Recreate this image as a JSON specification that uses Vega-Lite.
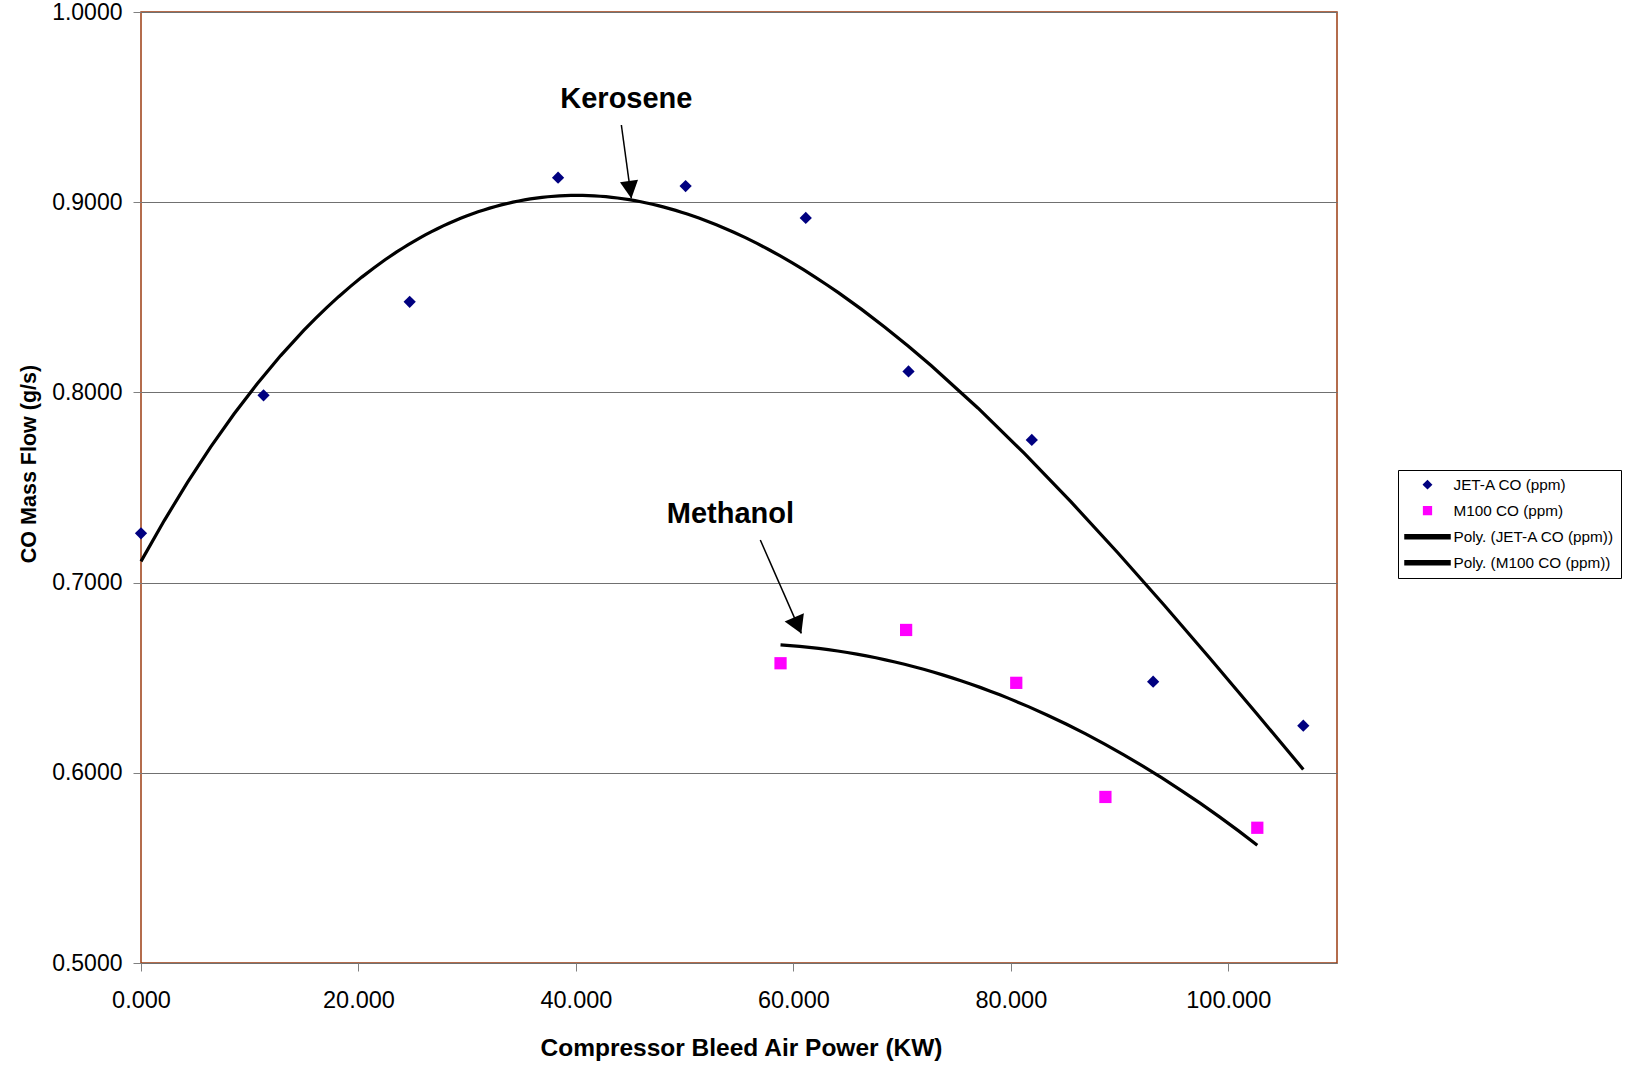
{
  "$schema": "https://vega.github.io/schema/vega-lite/v6.json",
  "width": 1196,
  "height": 951,
  "autosize": {"type": "none"},
  "padding": {"left": 141, "top": 12, "right": 290, "bottom": 106},
  "background": "white",
  "datasets": {
    "points": [
      {"series": "JET-A CO (ppm)", "power": 0, "co": 0.7259},
      {"series": "JET-A CO (ppm)", "power": 11.27, "co": 0.7985},
      {"series": "JET-A CO (ppm)", "power": 24.71, "co": 0.8476},
      {"series": "JET-A CO (ppm)", "power": 38.36, "co": 0.9129},
      {"series": "JET-A CO (ppm)", "power": 50.09, "co": 0.9085},
      {"series": "JET-A CO (ppm)", "power": 61.14, "co": 0.8917},
      {"series": "JET-A CO (ppm)", "power": 70.59, "co": 0.811},
      {"series": "JET-A CO (ppm)", "power": 81.93, "co": 0.775},
      {"series": "JET-A CO (ppm)", "power": 93.09, "co": 0.6479},
      {"series": "JET-A CO (ppm)", "power": 106.9, "co": 0.6248},
      {"series": "M100 CO (ppm)", "power": 58.82, "co": 0.6576},
      {"series": "M100 CO (ppm)", "power": 70.37, "co": 0.6751},
      {"series": "M100 CO (ppm)", "power": 80.5, "co": 0.6473},
      {"series": "M100 CO (ppm)", "power": 88.7, "co": 0.5873},
      {"series": "M100 CO (ppm)", "power": 102.67, "co": 0.5711}
    ],
    "labels": [
      {"name": "Kerosene", "power": 44.64, "co": 0.9494},
      {"name": "Methanol", "power": 54.21, "co": 0.7315}
    ],
    "arrows": [
      {"name": "Kerosene", "power": 44.18, "co": 0.9406, "power2": 45.1, "co2": 0.902},
      {"name": "Methanol", "power": 56.96, "co": 0.7224, "power2": 60.73, "co2": 0.6733}
    ]
  },
  "config": {
    "font": "Liberation Sans",
    "view": {"stroke": "#9c3d12", "strokeWidth": 1.5},
    "axis": {
      "labelColor": "#000000",
      "titleColor": "#000000",
      "tickColor": "#808080",
      "tickSize": 8,
      "tickWidth": 1,
      "domain": false,
      "labelFont": "Liberation Sans",
      "titleFont": "Liberation Sans",
      "titleFontWeight": "bold",
      "labelFlush": false,
      "labelOverlap": false
    },
    "legend": {
      "title": null,
      "orient": "none",
      "legendX": 1257,
      "legendY": 458,
      "strokeColor": "#000000",
      "fillColor": "#ffffff",
      "padding": 7,
      "rowPadding": 10,
      "labelFontSize": 15.3,
      "labelFont": "Liberation Sans",
      "labelColor": "#000000",
      "labelLimit": 400,
      "labelOffset": 18.35,
      "symbolOffset": 14.85,
      "symbolSize": 60,
      "symbolOpacity": 1
    }
  },
  "encoding": {
    "x": {
      "field": "power",
      "type": "quantitative",
      "scale": {"domain": [0, 110], "nice": false, "zero": false},
      "axis": {
        "title": "Compressor Bleed Air Power (KW)",
        "values": [0, 20, 40, 60, 80, 100],
        "format": ".3f",
        "grid": false,
        "labelFontSize": 23.5,
        "labelPadding": 17,
        "titleFontSize": 24.5,
        "titleX": 600,
        "titleY": 92,
        "titleBaseline": "alphabetic",
        "titleAlign": "center"
      }
    },
    "y": {
      "field": "co",
      "type": "quantitative",
      "scale": {"domain": [0.5, 1.0], "nice": false, "zero": false},
      "axis": {
        "title": "CO Mass Flow (g/s)",
        "values": [0.5, 0.6, 0.7, 0.8, 0.9, 1.0],
        "format": ".4f",
        "grid": true,
        "gridColor": "#707070",
        "gridWidth": 1,
        "labelFontSize": 23,
        "labelPadding": 11,
        "titleFontSize": 21.5,
        "titleX": -106,
        "titleY": 451.5,
        "titleBaseline": "alphabetic",
        "titleAlign": "center"
      }
    }
  },
  "layer": [
    {
      "data": {"name": "points"},
      "mark": {"type": "point", "filled": true, "size": 150, "opacity": 1},
      "encoding": {
        "color": {
          "field": "series",
          "type": "nominal",
          "scale": {
            "domain": ["JET-A CO (ppm)", "M100 CO (ppm)", "Poly. (JET-A CO (ppm))", "Poly. (M100 CO (ppm))"],
            "range": ["#000080", "#FF00FF", "#000000", "#000000"]
          },
          "legend": {"title": null}
        },
        "shape": {
          "field": "series",
          "type": "nominal",
          "scale": {
            "domain": ["JET-A CO (ppm)", "M100 CO (ppm)", "Poly. (JET-A CO (ppm))", "Poly. (M100 CO (ppm))"],
            "range": ["diamond", "square", "M-5.81,-0.52H5.81V0.52H-5.81Z", "M-5.81,-0.52H5.81V0.52H-5.81Z"]
          },
          "legend": {"title": null}
        }
      }
    },
    {
      "data": {"name": "points"},
      "transform": [
        {"filter": "datum.series === 'JET-A CO (ppm)'"},
        {"regression": "co", "on": "power", "method": "poly", "order": 3}
      ],
      "mark": {"type": "line", "strokeWidth": 3.2},
      "encoding": {"color": {"datum": "Poly. (JET-A CO (ppm))", "legend": null}}
    },
    {
      "data": {"name": "points"},
      "transform": [
        {"filter": "datum.series === 'M100 CO (ppm)'"},
        {"regression": "co", "on": "power", "method": "poly", "order": 2}
      ],
      "mark": {"type": "line", "strokeWidth": 3.2},
      "encoding": {"color": {"datum": "Poly. (M100 CO (ppm))", "legend": null}}
    },
    {
      "data": {"name": "arrows"},
      "mark": {"type": "rule", "color": "#000000", "strokeWidth": 1.5},
      "encoding": {
        "x2": {"field": "power2"},
        "y2": {"field": "co2"}
      }
    },
    {
      "data": {"name": "arrows"},
      "transform": [{"filter": "datum.name === 'Kerosene'"}],
      "mark": {"type": "point", "shape": "M0,0L-0.52,-1L0.52,-1Z", "size": 1225, "filled": true, "color": "#000000", "opacity": 1, "angle": 352.2},
      "encoding": {
        "x": {"field": "power2", "type": "quantitative"},
        "y": {"field": "co2", "type": "quantitative"}
      }
    },
    {
      "data": {"name": "arrows"},
      "transform": [{"filter": "datum.name === 'Methanol'"}],
      "mark": {"type": "point", "shape": "M0,0L-0.6,-1L0.6,-1Z", "size": 1225, "filled": true, "color": "#000000", "opacity": 1, "angle": 336.3},
      "encoding": {
        "x": {"field": "power2", "type": "quantitative"},
        "y": {"field": "co2", "type": "quantitative"}
      }
    },
    {
      "data": {"name": "labels"},
      "mark": {"type": "text", "fontSize": 29, "fontWeight": "bold", "align": "center", "baseline": "alphabetic", "color": "#000000", "font": "Liberation Sans"},
      "encoding": {"text": {"field": "name"}}
    }
  ]
}
